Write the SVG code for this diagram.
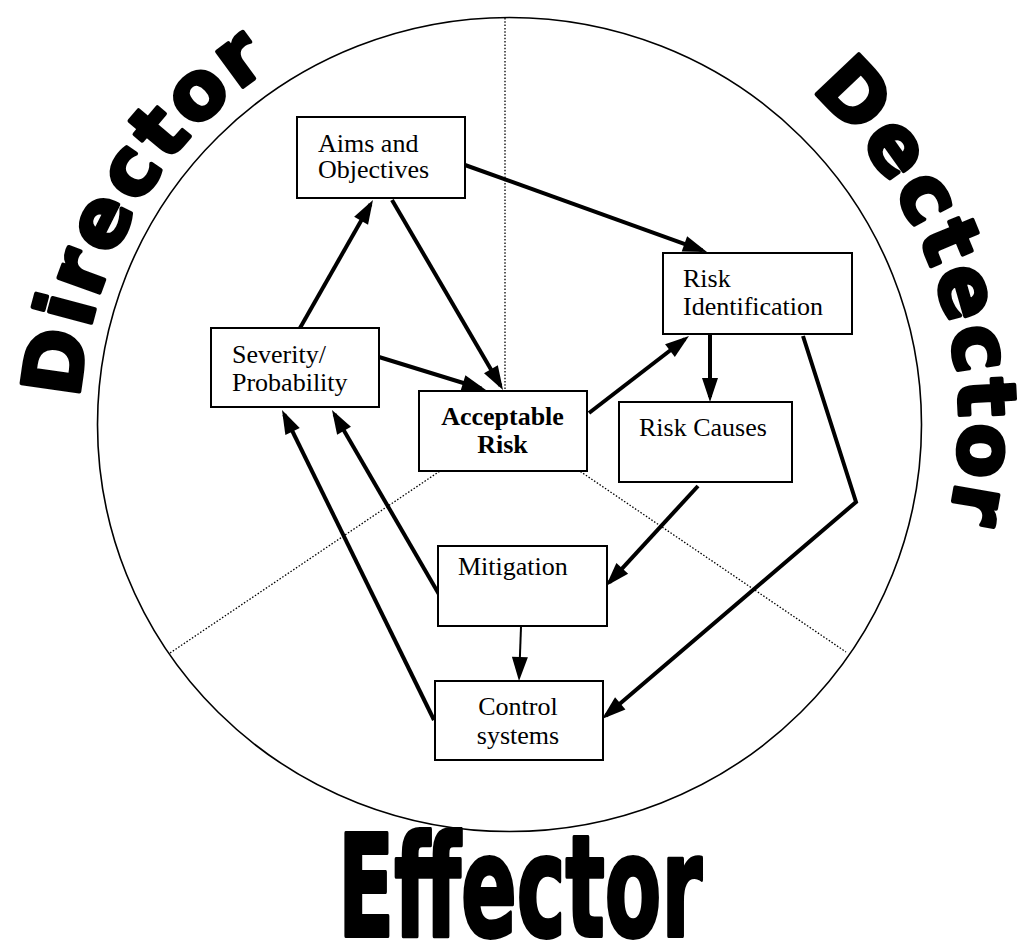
<svg xmlns="http://www.w3.org/2000/svg" width="1022" height="945" viewBox="0 0 1022 945">
  <style>
    .box { fill: #fff; stroke: #000; stroke-width: 2; }
    .lbl { font-family: "Liberation Serif", "Times New Roman", serif; font-size: 26px; fill: #000; }
    .bold { font-weight: bold; }
    .mid { text-anchor: middle; }
    .link { fill: none; stroke: #000; stroke-width: 4; marker-end: url(#head); }
    .thin { stroke-width: 2; }
    .dots { fill: none; stroke: #000; stroke-width: 1.3; stroke-dasharray: 1.5 1.8; }
    .big { font-family: "DejaVu Sans", "Liberation Sans", sans-serif; font-weight: bold; fill: #000; stroke: #000; stroke-width: 4; stroke-linejoin: round; }
  </style>
  <defs>
    <marker id="head" viewBox="0 0 24 16" markerWidth="24" markerHeight="16" refX="19" refY="8" orient="auto" markerUnits="userSpaceOnUse" overflow="visible">
      <path d="M0,0 L24,8 L0,16 Z" fill="#000"/>
    </marker>
    <!-- baseline arcs, concentric with the ring -->
    <path id="arcLeft" d="M79.7,399 A431,431 0 0 1 327.8,34.8"/>
    <path id="arcRight" d="M810.6,90.1 A450,450 0 0 1 932.4,578.4"/>
  </defs>

  <rect width="1022" height="945" fill="#fff"/>

  <!-- outer ring and sector dividers -->
  <g id="frame">
    <ellipse cx="509.5" cy="424.5" rx="412" ry="407" fill="none" stroke="#000" stroke-width="1.6"/>
    <line class="dots" x1="505" y1="18" x2="505" y2="425"/>
    <line class="dots" x1="486" y1="440" x2="170" y2="653"/>
    <line class="dots" x1="534" y1="440" x2="846" y2="652"/>
  </g>

  <!-- sector titles -->
  <g id="titles">
    <text class="big" font-size="80" letter-spacing="4"><textPath href="#arcLeft">Director</textPath></text>
    <text class="big" font-size="80" letter-spacing="4"><textPath href="#arcRight">Dectector</textPath></text>
    <text class="big" x="338" y="936" font-family="Liberation Sans, Arial, sans-serif" font-size="140" textLength="364" lengthAdjust="spacingAndGlyphs" stroke-width="2">Effector</text>
  </g>

  <!-- connectors -->
  <g id="connectors">
    <line class="link" x1="300" y1="328" x2="370.5" y2="204.3"/>
    <line class="link" x1="392" y1="200" x2="500.5" y2="385.7"/>
    <line class="link" x1="379" y1="357" x2="481.2" y2="388.5"/>
    <line class="link" x1="465" y1="165" x2="702.3" y2="250.3"/>
    <line class="link" x1="589" y1="413" x2="685" y2="339"/>
    <line class="link" x1="710" y1="334" x2="710" y2="397"/>
    <polyline class="link" points="803,336 856,502 605.8,715.7"/>
    <line class="link" x1="698" y1="486" x2="609.4" y2="582.3"/>
    <line class="link thin" x1="521" y1="627" x2="519.2" y2="676"/>
    <line class="link" x1="440" y1="596" x2="334.5" y2="414.3"/>
    <line class="link" x1="434" y1="720" x2="284.2" y2="414.5"/>
  </g>

  <!-- nodes -->
  <g id="aims">
    <rect class="box" x="297" y="117" width="168" height="81"/>
    <text class="lbl" x="318" y="152">Aims and</text>
    <text class="lbl" x="318" y="178">Objectives</text>
  </g>
  <g id="severity">
    <rect class="box" x="211" y="328" width="168" height="79"/>
    <text class="lbl" x="232" y="363">Severity/</text>
    <text class="lbl" x="232" y="391">Probability</text>
  </g>
  <g id="acceptable-risk">
    <rect class="box" x="419" y="391" width="168" height="80"/>
    <text class="lbl bold mid" x="502.5" y="425">Acceptable</text>
    <text class="lbl bold mid" x="502.5" y="453">Risk</text>
  </g>
  <g id="risk-identification">
    <rect class="box" x="663" y="253" width="189" height="81"/>
    <text class="lbl" x="683" y="287">Risk</text>
    <text class="lbl" x="683" y="315">Identification</text>
  </g>
  <g id="risk-causes">
    <rect class="box" x="619" y="402" width="173" height="80"/>
    <text class="lbl" x="639" y="436">Risk Causes</text>
  </g>
  <g id="mitigation">
    <rect class="box" x="438" y="546" width="169" height="80"/>
    <text class="lbl" x="458" y="575">Mitigation</text>
  </g>
  <g id="control-systems">
    <rect class="box" x="435" y="681" width="168" height="79"/>
    <text class="lbl mid" x="518" y="715">Control</text>
    <text class="lbl mid" x="518" y="744">systems</text>
  </g>
</svg>
